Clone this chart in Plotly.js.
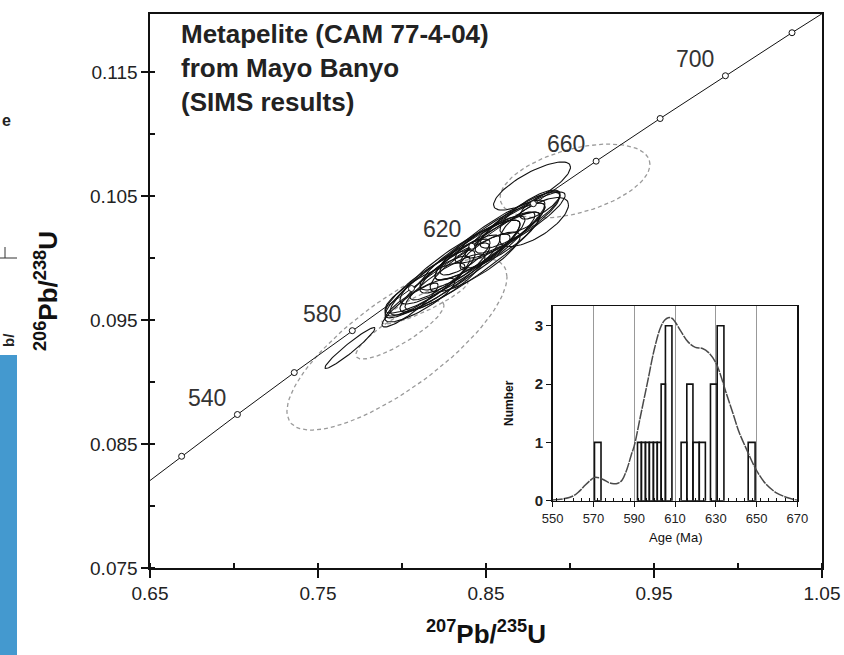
<!DOCTYPE html>
<html>
<head>
<meta charset="utf-8">
<script src="https://cdn.plot.ly/plotly-3.0.1.min.js"></script>
<style>html,body{margin:0;padding:0;background:#fff;}#chart{width:844px;height:655px;}</style>
</head>
<body>
<div id="chart"></div>
<script>
// ---- Concordia (ages in Ma, 207Pb/235U, 206Pb/238U) ----
const concAge = [500,520,540,560,580,600,620,640,660,680,700,720,740];
const concX = [0.63628,0.66883,0.70203,0.73588,0.77041,0.80563,0.84155,0.87819,0.91554,0.95365,0.99251,1.03214,1.07257];
const concY = [0.08065,0.08401,0.08738,0.09076,0.09414,0.09754,0.10095,0.10438,0.10781,0.11125,0.11470,0.11817,0.12164];
const labelAges = [540,580,620,660,700];

// ---- Accepted analyses (solid ellipses): centre, sigma x, sigma y, error correlation ----
const accX   = [0.7690,0.8774,0.8786,0.8167,0.8256,0.8345,0.8405,0.8464,0.8524,0.8583,0.8315,0.8226,0.8643,0.8702,0.8405,0.8137,0.8762,0.8821,0.8494,0.8375,0.8345,0.8107,0.8435,0.8583,0.8256,0.8673,0.8048];
const accY   = [0.09274,0.10581,0.10290,0.09798,0.09863,0.09968,0.10024,0.10081,0.10145,0.10202,0.09919,0.09839,0.10242,0.10306,0.09968,0.09758,0.10371,0.10427,0.10048,0.10008,0.09944,0.09661,0.09968,0.10145,0.09806,0.10266,0.09621];
const accSX  = [0.0149,0.0229,0.0205,0.0268,0.0327,0.0357,0.0298,0.0268,0.0327,0.0268,0.0208,0.0179,0.0208,0.0238,0.0417,0.0238,0.0179,0.0119,0.0149,0.0149,0.0446,0.0208,0.0268,0.0238,0.0238,0.0298,0.0167];
const accSY  = [0.00165,0.00194,0.00198,0.00266,0.00323,0.00339,0.00282,0.00258,0.00323,0.00242,0.00202,0.00177,0.00202,0.00226,0.00403,0.00202,0.00177,0.00113,0.00145,0.00145,0.00427,0.00177,0.00242,0.00226,0.00226,0.00266,0.00177];
const accRho = [0.96,0.78,0.70,0.88,0.90,0.90,0.88,0.88,0.90,0.87,0.85,0.85,0.85,0.85,0.93,0.85,0.80,0.75,0.80,0.80,0.94,0.85,0.85,0.85,0.87,0.90,0.90];

// ---- Rejected analyses (dashed grey ellipses) ----
const rejX   = [0.7970,0.9030,0.7988,0.8137];
const rejY   = [0.09306,0.10621,0.09419,0.09645];
const rejSX  = [0.0655,0.0446,0.0262,0.0256];
const rejSY  = [0.00694,0.00298,0.00234,0.00177];
const rejRho = [0.78,0.45,0.85,0.90];

// ---- Inset histogram (Ma) ----
const binLo    = [570.5,591.6,593.5,595.5,597.4,599.4,601.3,603.2,605.3,613.0,615.8,618.8,621.9,627.4,630.7,645.9];
const binHi    = [573.7,593.5,595.5,597.4,599.4,601.3,603.2,605.3,608.5,615.8,618.8,621.9,624.9,630.7,634.0,649.3];
const binCount = [1,1,1,1,1,1,1,2,3,1,2,1,1,2,3,1];

// ---- Inset probability density curve ----
const kdeAge = [550,555,560,563,566,568.5,570.5,573,575,577.5,580,582,584,586.5,588.5,590,593,596.5,600,603,605,606.7,608.5,610,613,616.5,620,623.5,626.5,630,632.5,635,638.5,641.5,645,648.5,651,654.5,659.5,664.5,668.5,670];
const kdeVal = [0.01,0.03,0.08,0.16,0.27,0.35,0.40,0.39,0.36,0.31,0.29,0.30,0.35,0.55,0.78,0.94,1.44,2.03,2.62,2.98,3.10,3.14,3.13,3.07,2.90,2.72,2.63,2.61,2.54,2.37,2.14,1.86,1.49,1.17,0.89,0.62,0.46,0.29,0.14,0.06,0.02,0.01];

function ellipses(cx, cy, sx, sy, rho) {
  const xs = [], ys = [];
  for (let j = 0; j < cx.length; j++) {
    const k = Math.sqrt(1 - rho[j] * rho[j]);
    for (let i = 0; i <= 90; i++) {
      const t = i / 90 * 2 * Math.PI;
      xs.push(cx[j] + sx[j] * Math.cos(t));
      ys.push(cy[j] + sy[j] * (rho[j] * Math.cos(t) + k * Math.sin(t)));
    }
    xs.push(null); ys.push(null);
  }
  return [xs, ys];
}

const FONT = 'Liberation Sans, Arial, Helvetica, sans-serif';
const rej = ellipses(rejX, rejY, rejSX, rejSY, rejRho);
const acc = ellipses(accX, accY, accSX, accSY, accRho);

const traces = [
  {x: rej[0], y: rej[1], mode: 'lines', line: {color: '#9a9a9a', width: 1.3, dash: '4px,3px'}, hoverinfo: 'skip', xaxis: 'x', yaxis: 'y', connectgaps: false},
  {x: acc[0], y: acc[1], mode: 'lines', line: {color: '#111', width: 1.1}, hoverinfo: 'skip', xaxis: 'x', yaxis: 'y', connectgaps: false},
  {x: concX, y: concY, mode: 'lines+markers', line: {color: '#111', width: 1}, marker: {symbol: 'circle', size: 6, color: '#fff', line: {color: '#111', width: 1}}, xaxis: 'x', yaxis: 'y', cliponaxis: true},
  {type: 'bar', x: binLo.map((l, i) => (l + binHi[i]) / 2), y: binCount, width: binLo.map((l, i) => binHi[i] - l), base: 0,
   marker: {color: 'rgba(255,255,255,0)', line: {color: '#111', width: 1.6}}, xaxis: 'x2', yaxis: 'y2'},
  {x: kdeAge, y: kdeVal, mode: 'lines', line: {color: '#4a4a4a', width: 1.5, shape: 'spline', dash: '10px,1px'}, xaxis: 'x2', yaxis: 'y2'}
];

const px2x = p => (p - 150) / 672;
const px2y = p => (568 - p) / 554;

const annotations = labelAges.map(a => {
  const i = concAge.indexOf(a);
  return {x: concX[i], y: concY[i], xref: 'x', yref: 'y', text: String(a), showarrow: false,
          xshift: -30, yshift: 17, font: {family: FONT, size: 23, color: '#333'}};
});
annotations.push(
  {xref: 'paper', yref: 'paper', x: px2x(179), y: px2y(17), xanchor: 'left', yanchor: 'top', align: 'left', showarrow: false,
   text: '<b>Metapelite (CAM 77-4-04)<br>from Mayo Banyo<br>(SIMS results)</b>', font: {family: FONT, size: 26, color: '#222'}},
  {xref: 'paper', yref: 'paper', x: 0.5, y: px2y(632), xanchor: 'center', yanchor: 'middle', showarrow: false,
   text: '<b><sup>207</sup>Pb/<sup>235</sup>U</b>', font: {family: FONT, size: 26, color: '#111'}},
  {xref: 'paper', yref: 'paper', x: px2x(46), y: px2y(291), xanchor: 'center', yanchor: 'middle', showarrow: false, textangle: -90,
   text: '<b><sup>206</sup>Pb/<sup>238</sup>U</b>', font: {family: FONT, size: 26, color: '#111'}},
  {xref: 'paper', yref: 'paper', x: px2x(509), y: px2y(403), xanchor: 'center', yanchor: 'middle', showarrow: false, textangle: -90,
   text: '<b>Number</b>', font: {family: FONT, size: 12, color: '#111'}},
  {xref: 'paper', yref: 'paper', x: px2x(675), y: px2y(537), xanchor: 'center', yanchor: 'middle', showarrow: false,
   text: 'Age (Ma)', font: {family: FONT, size: 13, color: '#111'}},
  {xref: 'paper', yref: 'paper', x: px2x(13), y: px2y(121), xanchor: 'right', yanchor: 'middle', showarrow: false,
   text: '<b>e</b>', font: {family: FONT, size: 16, color: '#222'}},
  {xref: 'paper', yref: 'paper', x: px2x(9), y: px2y(340), xanchor: 'center', yanchor: 'middle', showarrow: false, textangle: -90,
   text: '<b>b/</b>', font: {family: FONT, size: 15, color: '#222'}}
);

const shapes = [
  {type: 'rect', xref: 'paper', yref: 'paper', x0: px2x(0), x1: px2x(17), y0: px2y(655), y1: px2y(355), fillcolor: '#4499cf', line: {width: 0}, layer: 'above'},
  {type: 'line', xref: 'paper', yref: 'paper', x0: px2x(0), x1: px2x(17), y0: px2y(258), y1: px2y(258), line: {color: '#333', width: 1}},
  {type: 'line', xref: 'paper', yref: 'paper', x0: px2x(5), x1: px2x(5), y0: px2y(247), y1: px2y(258), line: {color: '#333', width: 1}}
];

const layout = {
  width: 844, height: 655,
  margin: {l: 150, r: 22, t: 14, b: 87, pad: 0},
  paper_bgcolor: '#fff', plot_bgcolor: '#fff',
  showlegend: false,
  font: {family: FONT, color: '#222'},
  xaxis: {domain: [0, 1], range: [0.65, 1.05], tick0: 0.65, dtick: 0.1, tickformat: '.2f',
          ticks: 'outside', ticklen: 8, tickwidth: 1.2, tickcolor: '#111',
          showline: true, linecolor: '#111', linewidth: 1.6, mirror: true, showgrid: false, zeroline: false,
          tickfont: {family: FONT, size: 19, color: '#222'},
          minor: {dtick: 0.05, ticks: 'inside', ticklen: 5, tickcolor: '#111', showgrid: false}},
  yaxis: {domain: [0, 1], range: [0.075, 0.11968], tick0: 0.075, dtick: 0.01, tickformat: '.3f',
          ticks: 'outside', ticklen: 7, tickwidth: 1.2, tickcolor: '#111',
          showline: true, linecolor: '#111', linewidth: 1.6, mirror: true, showgrid: false, zeroline: false,
          tickfont: {family: FONT, size: 19, color: '#222'},
          minor: {dtick: 0.005, ticks: 'inside', ticklen: 5, tickcolor: '#111', showgrid: false}},
  xaxis2: {domain: [px2x(552.7), px2x(797.3)], anchor: 'y2', range: [550, 670], tick0: 550, dtick: 20,
           ticks: 'outside', ticklen: 5, tickcolor: '#111', showline: true, linecolor: '#111', linewidth: 1.5, mirror: true,
           showgrid: true, gridcolor: '#999', gridwidth: 1, zeroline: false,
           tickfont: {family: FONT, size: 13, color: '#222'},
           minor: {dtick: 4, ticks: 'inside', ticklen: 3, tickcolor: '#111', showgrid: false}},
  yaxis2: {domain: [px2y(500.7), px2y(306)], anchor: 'x2', range: [0, 3.34], dtick: 1,
           ticks: 'outside', ticklen: 5, tickcolor: '#111', showline: true, linecolor: '#111', linewidth: 1.5, mirror: true,
           showgrid: false, zeroline: false,
           tickfont: {family: FONT, size: 15, color: '#222', weight: 'bold'}},
  annotations: annotations,
  shapes: shapes
};

Plotly.newPlot('chart', traces, layout, {displayModeBar: false, staticPlot: true});
</script>
</body>
</html>
